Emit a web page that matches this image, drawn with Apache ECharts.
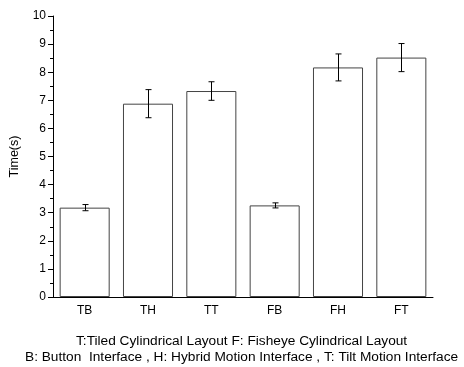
<!DOCTYPE html>
<html>
<head>
<meta charset="utf-8">
<script src="https://cdn.jsdelivr.net/npm/echarts@6/dist/echarts.min.js"></script>
<style>
html,body{margin:0;padding:0;background:#fff;}
#main{width:464px;height:367px;}
</style>
</head>
<body>
<div id="main"></div>
<script>
var categories = ['TB', 'TH', 'TT', 'FB', 'FH', 'FT'];
var meanTime = [3.18, 6.88, 7.33, 3.26, 8.17, 8.52];
var errTime = [0.11, 0.5, 0.33, 0.09, 0.48, 0.5];
var yTicks = [0, 10, 1];

var myChart = echarts.init(document.getElementById('main'));
var font = 'Liberation Sans, Arial, sans-serif';

option = {
    animation: false,
    grid: {left: 53, right: 31, top: 16, bottom: 70},
    xAxis: [
        {
            type: 'category',
            data: categories,
            axisLine: {lineStyle: {color: '#000', width: 1}},
            axisTick: {alignWithLabel: true, length: 5, lineStyle: {color: '#000'}},
            axisLabel: {color: '#000', fontFamily: font, fontSize: 12, margin: 8}
        },
        {
            type: 'category',
            data: categories,
            position: 'bottom',
            axisLine: {show: false},
            axisTick: {length: 3, lineStyle: {color: '#000'}},
            axisLabel: {show: false}
        }
    ],
    yAxis: {
        type: 'value',
        min: yTicks[0],
        max: yTicks[1],
        interval: yTicks[2],
        name: 'Time(s)',
        nameLocation: 'middle',
        nameGap: 32,
        nameTextStyle: {color: '#000', fontFamily: font, fontSize: 12.5},
        axisLine: {show: true, lineStyle: {color: '#000', width: 1}},
        axisTick: {show: true, length: 5, lineStyle: {color: '#000'}},
        minorTick: {show: true, splitNumber: 2, length: 3, lineStyle: {color: '#000'}},
        splitLine: {show: false},
        axisLabel: {color: '#000', fontFamily: font, fontSize: 12, margin: 7}
    },
    graphic: [
        {
            type: 'text', left: 76, top: 334,
            style: {text: 'T:Tiled Cylindrical Layout F: Fisheye Cylindrical Layout', fill: '#000', font: '13.7px ' + font}
        },
        {
            type: 'text', left: 25, top: 350,
            style: {text: 'B: Button  Interface , H: Hybrid Motion Interface , T: Tilt Motion Interface', fill: '#000', font: '13.7px ' + font}
        }
    ],
    series: [
        {
            type: 'bar',
            data: meanTime,
            barWidth: '79%',
            itemStyle: {color: '#fff', borderColor: '#444', borderWidth: 1}
        },
        {
            type: 'custom',
            data: meanTime.map(function (v, i) { return [i, v - errTime[i], v + errTime[i]]; }),
            renderItem: function (params, api) {
                var lo = api.coord([api.value(0), api.value(1)]);
                var hi = api.coord([api.value(0), api.value(2)]);
                var x = Math.round(lo[0]) + 0.5;
                var w = 3;
                var st = {stroke: '#000', lineWidth: 1};
                return {
                    type: 'group',
                    children: [
                        {type: 'line', shape: {x1: x, y1: hi[1], x2: x, y2: lo[1]}, style: st},
                        {type: 'line', shape: {x1: x - w, y1: hi[1], x2: x + w, y2: hi[1]}, style: st},
                        {type: 'line', shape: {x1: x - w, y1: lo[1], x2: x + w, y2: lo[1]}, style: st}
                    ]
                };
            },
            z: 5
        }
    ]
};

myChart.setOption(option);
</script>
</body>
</html>
